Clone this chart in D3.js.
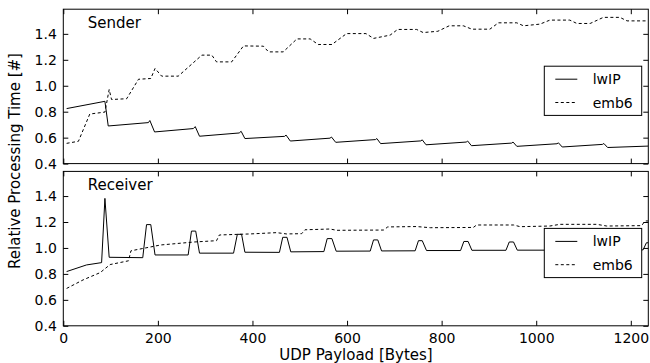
<!DOCTYPE html>
<html>
<head>
<meta charset="utf-8">
<script src="https://cdn.jsdelivr.net/npm/d3@7"></script>
<style>
  body { margin: 0; background: #fff; }
  svg { display: block; font-family: "DejaVu Sans", sans-serif; }
</style>
</head>
<body>
<div id="chart"></div>
<script>
// UDP payload (bytes) vs relative processing time
const senderLwipX = [7, 88, 95, 180, 183, 193, 275, 279, 288, 372, 376, 384, 468, 471, 480, 564, 567, 576, 660, 663, 671, 756, 759, 767, 852, 855, 863, 948, 951, 959, 1044, 1047, 1055, 1140, 1143, 1151, 1237];
const senderLwipY = [0.824, 0.880, 0.690, 0.716, 0.732, 0.644, 0.670, 0.685, 0.611, 0.636, 0.649, 0.593, 0.610, 0.620, 0.574, 0.596, 0.605, 0.564, 0.585, 0.593, 0.554, 0.575, 0.583, 0.545, 0.566, 0.574, 0.538, 0.558, 0.566, 0.533, 0.553, 0.560, 0.528, 0.548, 0.555, 0.524, 0.535];

const senderEmb6X = [7, 32, 56, 88, 97, 102, 134, 159, 185, 194, 208, 243, 293, 314, 324, 356, 381, 423, 434, 465, 494, 522, 539, 568, 599, 640, 656, 691, 707, 747, 761, 792, 816, 846, 864, 902, 920, 959, 973, 1008, 1029, 1071, 1086, 1114, 1142, 1177, 1192, 1237];
const senderEmb6Y = [0.556, 0.572, 0.782, 0.797, 0.971, 0.894, 0.900, 1.050, 1.056, 1.133, 1.074, 1.074, 1.236, 1.236, 1.184, 1.184, 1.307, 1.305, 1.261, 1.261, 1.361, 1.361, 1.318, 1.318, 1.402, 1.402, 1.365, 1.390, 1.434, 1.434, 1.410, 1.420, 1.462, 1.462, 1.436, 1.436, 1.485, 1.485, 1.462, 1.475, 1.506, 1.506, 1.480, 1.480, 1.527, 1.527, 1.500, 1.500];

const receiverLwipX = [7, 49, 81, 88, 97, 168, 176, 185, 194, 264, 271, 280, 288, 360, 368, 377, 384, 457, 464, 473, 481, 551, 558, 568, 577, 649, 656, 665, 673, 744, 751, 759, 768, 840, 847, 856, 864, 936, 943, 952, 960, 1033, 1040, 1049, 1057, 1129, 1136, 1145, 1153, 1226, 1233, 1237];
const receiverLwipY = [0.818, 0.869, 0.887, 1.382, 0.928, 0.925, 1.180, 1.180, 0.946, 0.946, 1.130, 1.130, 0.960, 0.960, 1.105, 1.105, 0.967, 0.966, 1.082, 1.082, 0.970, 0.972, 1.072, 1.072, 0.975, 0.976, 1.062, 1.062, 0.977, 0.978, 1.056, 1.056, 0.980, 0.980, 1.050, 1.050, 0.982, 0.982, 1.046, 1.046, 0.983, 0.983, 1.043, 1.043, 0.984, 0.984, 1.040, 1.040, 0.985, 0.985, 1.040, 1.040];

const receiverEmb6X = [7, 42, 78, 99, 138, 143, 206, 277, 324, 330, 395, 451, 472, 504, 511, 564, 578, 677, 686, 747, 776, 867, 874, 952, 966, 1029, 1050, 1128, 1149, 1223, 1230, 1237];
const receiverEmb6Y = [0.688, 0.754, 0.810, 0.872, 0.901, 0.978, 1.023, 1.046, 1.056, 1.100, 1.108, 1.118, 1.108, 1.110, 1.140, 1.146, 1.136, 1.138, 1.162, 1.165, 1.156, 1.158, 1.177, 1.177, 1.164, 1.169, 1.182, 1.182, 1.169, 1.172, 1.208, 1.208];

const xTicks = [0, 200, 400, 600, 800, 1000, 1200];
const yTicks = [0.4, 0.6, 0.8, 1.0, 1.2, 1.4];
const seriesNames = ['lwIP', 'emb6'];

const width = 650, height = 363;
const left = 63.3, right = 648.3;
const panelH = 154.4;

const svg = d3.select('#chart')
    .append('svg')
    .attr('width', width)
    .attr('height', height);

const x = d3.scaleLinear().domain([0, 1237]).range([left, right]);

const zip = (xs, ys) => xs.map((v, i) => [v, ys[i]]);

function drawPanel(top, title, lwip, emb6, showXLabels, id) {
    const y = d3.scaleLinear().domain([0.4, 1.59]).range([top + panelH, top]);
    const g = svg.append('g');

    // clip for the data lines
    svg.append('clipPath').attr('id', id)
        .append('rect')
        .attr('x', left).attr('y', top)
        .attr('width', right - left).attr('height', panelH);

    const line = d3.line().x(d => x(d[0])).y(d => y(d[1]));

    const lines = g.append('g').attr('clip-path', `url(#${id})`);
    lines.append('path')
        .datum(lwip)
        .attr('d', line)
        .attr('fill', 'none')
        .attr('stroke', '#000')
        .attr('stroke-width', 1);
    lines.append('path')
        .datum(emb6)
        .attr('d', line)
        .attr('fill', 'none')
        .attr('stroke', '#000')
        .attr('stroke-width', 1)
        .attr('stroke-dasharray', '3,2.5');

    // inside ticks on all four sides
    g.append('g')
        .attr('transform', `translate(0,${top + panelH})`)
        .call(d3.axisBottom(x).tickValues(xTicks).tickSize(-5).tickSizeOuter(0).tickPadding(7)
            .tickFormat(showXLabels ? d3.format('d') : () => ''));
    g.append('g')
        .attr('transform', `translate(0,${top})`)
        .call(d3.axisTop(x).tickValues(xTicks).tickSize(-5).tickSizeOuter(0).tickFormat(() => ''));
    g.append('g')
        .attr('transform', `translate(${left},0)`)
        .call(d3.axisLeft(y).tickValues(yTicks).tickSize(-5).tickSizeOuter(0).tickPadding(6.5)
            .tickFormat(d3.format('.1f')));
    g.append('g')
        .attr('transform', `translate(${right},0)`)
        .call(d3.axisRight(y).tickValues(yTicks).tickSize(-5).tickSizeOuter(0).tickFormat(() => ''));

    g.selectAll('.domain').remove();
    g.selectAll('.tick line').attr('stroke', '#000').attr('stroke-width', 1);
    g.selectAll('.tick text')
        .attr('fill', '#000')
        .style('font-size', '14px')
        .style('font-family', '"DejaVu Sans", sans-serif');

    // frame
    g.append('rect')
        .attr('x', left).attr('y', top)
        .attr('width', right - left).attr('height', panelH)
        .attr('fill', 'none')
        .attr('stroke', '#000')
        .attr('stroke-width', 1);

    g.append('text')
        .attr('x', 87.7)
        .attr('y', top + 18.5)
        .style('font-size', '15px')
        .text(title);

    // legend
    const lg = g.append('g').attr('transform', `translate(544.3,${top + 57})`);
    lg.append('rect')
        .attr('width', 97.4).attr('height', 49.2)
        .attr('fill', '#fff')
        .attr('stroke', '#000')
        .attr('stroke-width', 1);
    seriesNames.forEach((name, i) => {
        const ry = 13 + i * 23.3;
        lg.append('line')
            .attr('x1', 11).attr('x2', 33)
            .attr('y1', ry).attr('y2', ry)
            .attr('stroke', '#000')
            .attr('stroke-width', 1)
            .attr('stroke-dasharray', i === 1 ? '3,2.5' : null);
        lg.append('text')
            .attr('x', 48.4)
            .attr('y', ry)
            .attr('dy', '0.36em')
            .style('font-size', '14px')
            .text(name);
    });
}

drawPanel(9.2, 'Sender', zip(senderLwipX, senderLwipY), zip(senderEmb6X, senderEmb6Y), false, 'clip-top');
drawPanel(171.4, 'Receiver', zip(receiverLwipX, receiverLwipY), zip(receiverEmb6X, receiverEmb6Y), true, 'clip-bottom');

// axis titles
svg.append('text')
    .attr('transform', 'translate(19.5,161) rotate(-90)')
    .attr('text-anchor', 'middle')
    .style('font-size', '15px')
    .text('Relative Processing Time [#]');

svg.append('text')
    .attr('x', 356)
    .attr('y', 360)
    .attr('text-anchor', 'middle')
    .style('font-size', '15px')
    .text('UDP Payload [Bytes]');
</script>
</body>
</html>
